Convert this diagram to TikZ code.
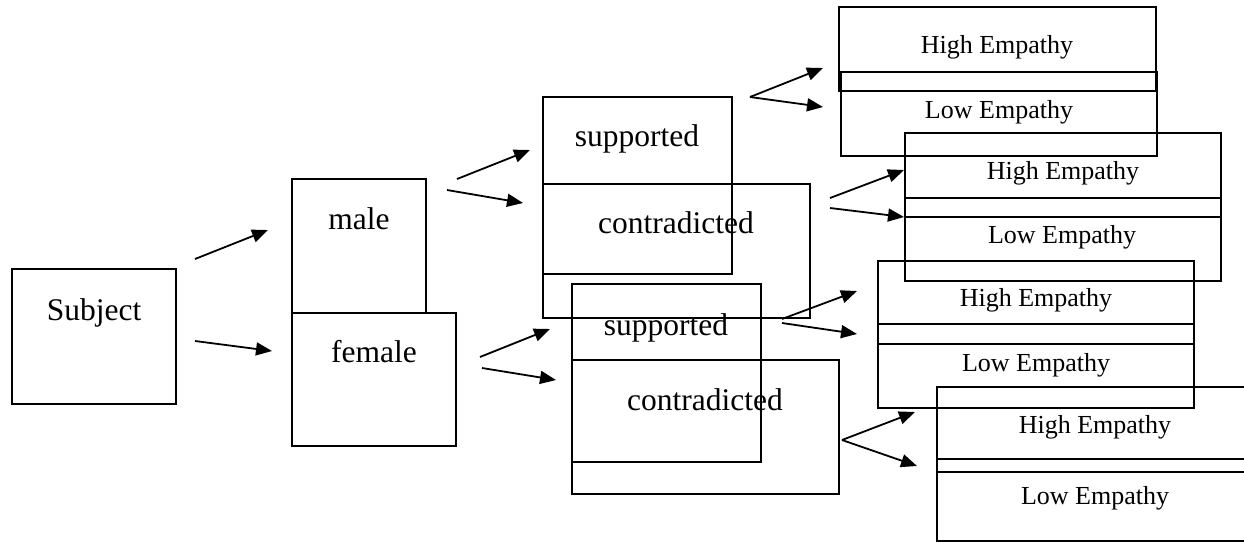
\documentclass[tikz,border=0pt]{standalone}
\usepackage{fontspec}
\setmainfont{Liberation Serif}
\usetikzlibrary{arrows.meta}
\begin{document}
\begin{tikzpicture}[x=1pt,y=-1pt,
  box/.style={draw, line width=2pt, anchor=north west, inner sep=0pt, outer sep=0pt},
  big/.style={anchor=base, inner sep=0pt, font=\fontsize{31.5}{36}\selectfont},
  emp/.style={anchor=base, inner sep=0pt, font=\fontsize{26}{30}\selectfont},
  arr/.style={line width=1.8pt, -{Triangle[length=16pt,width=13pt]}}]
\clip (0,0) rectangle (1244,542);
% boxes
\node[box, minimum width=164, minimum height=135] (subj) at (12,269) {};
\node[box, minimum width=134, minimum height=134] (male) at (292,179) {};
\node[box, minimum width=164, minimum height=133] (female) at (292,313) {};
\node[box, minimum width=189, minimum height=177] (sup1) at (543,97) {};
\node[box, minimum width=267, minimum height=134] (con1) at (543,184) {};
\node[box, minimum width=189, minimum height=178] (sup2) at (572,284) {};
\node[box, minimum width=267, minimum height=134] (con2) at (572,360) {};
\node[box, minimum width=317, minimum height=84] (h1) at (839,7) {};
\node[box, minimum width=316, minimum height=84] (l1) at (841,72) {};
\node[box, minimum width=316, minimum height=84] (h2) at (905,133) {};
\node[box, minimum width=316, minimum height=83] (l2) at (905,198) {};
\node[box, minimum width=316, minimum height=83] (h3) at (878,261) {};
\node[box, minimum width=316, minimum height=84] (l3) at (878,324) {};
\node[box, minimum width=316, minimum height=85] (h4) at (937,387) {};
\node[box, minimum width=316, minimum height=82] (l4) at (937,459) {};
% texts
\node[big] (tsubj) at (94,320) {Subject};
\node[big] (tmale) at (359,229) {male};
\node[big] (tfemale) at (374,362) {female};
\node[big] (tsup1) at (637,146) {supported};
\node[big] (tcon1) at (676,233) {contradicted};
\node[big] (tsup2) at (666,335) {supported};
\node[big] (tcon2) at (705,410) {contradicted};
\node[emp] (th1) at (997,53) {High Empathy};
\node[emp] (tl1) at (999,118) {Low Empathy};
\node[emp] (th2) at (1063,179) {High Empathy};
\node[emp] (tl2) at (1062,243) {Low Empathy};
\node[emp] (th3) at (1036,306) {High Empathy};
\node[emp] (tl3) at (1036,371) {Low Empathy};
\node[emp] (th4) at (1095,433) {High Empathy};
\node[emp] (tl4) at (1095,504) {Low Empathy};
% arrow end points
\coordinate (a1s) at (195,259); \coordinate (a1e) at (268,230);
\coordinate (a2s) at (195,341); \coordinate (a2e) at (272,351);
\coordinate (b1s) at (457,179); \coordinate (b1e) at (530,150);
\coordinate (b2s) at (447,190); \coordinate (b2e) at (523,203);
\coordinate (c1s) at (480,357); \coordinate (c1e) at (550,329);
\coordinate (c2s) at (482,368); \coordinate (c2e) at (556,380);
\coordinate (d0) at (750,97); \coordinate (d1e) at (823,68); \coordinate (d2e) at (823,107);
\coordinate (e1s) at (830,198); \coordinate (e1e) at (904,170);
\coordinate (e2s) at (830,208); \coordinate (e2e) at (904,217);
\coordinate (f1s) at (782,319); \coordinate (f1e) at (857,291);
\coordinate (f2s) at (782,323); \coordinate (f2e) at (857,334);
\coordinate (g0) at (842,440); \coordinate (g1e) at (915,412); \coordinate (g2e) at (917,466);
% arrows
\draw[arr] (a1s) -- (a1e);
\draw[arr] (a2s) -- (a2e);
\draw[arr] (b1s) -- (b1e);
\draw[arr] (b2s) -- (b2e);
\draw[arr] (c1s) -- (c1e);
\draw[arr] (c2s) -- (c2e);
\draw[arr] (d0) -- (d1e);
\draw[arr] (d0) -- (d2e);
\draw[arr] (e1s) -- (e1e);
\draw[arr] (e2s) -- (e2e);
\draw[arr] (f1s) -- (f1e);
\draw[arr] (f2s) -- (f2e);
\draw[arr] (g0) -- (g1e);
\draw[arr] (g0) -- (g2e);
\end{tikzpicture}
\end{document}
